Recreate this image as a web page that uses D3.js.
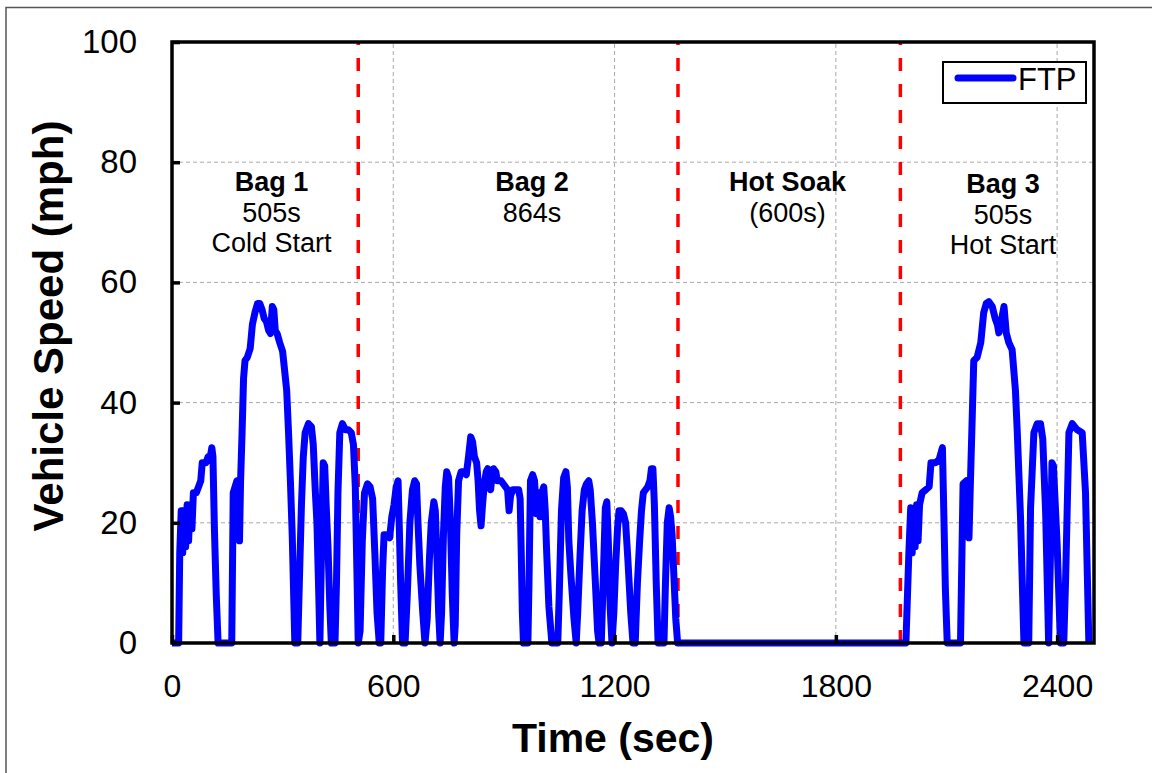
<!DOCTYPE html>
<html>
<head>
<meta charset="utf-8">
<script src="https://cdn.jsdelivr.net/npm/d3@7"></script>
<style>
    body { margin: 0; background: #fff; }
    text { font-family: Arial, "Liberation Sans", sans-serif; }
</style>
</head>
<body>
<div id="container"></div>
<script>
// FTP-75 speed trace (sec, mph)
const bag1Time = [0, 18, 21, 25, 29, 33, 37, 41, 45, 49, 54, 58, 66, 72, 78, 82, 92, 98, 104, 108, 111, 115, 120, 125,
    162, 166, 171, 176, 180, 183, 186, 190, 194, 198, 204, 212, 218, 225, 232, 238, 244, 250, 256, 262, 267, 272, 276,
    280, 285, 292, 300, 306, 311, 316, 321, 326, 333, 341, 347, 351, 356, 361, 370, 378, 383, 388, 393, 398, 401, 405,
    410, 414, 418, 423, 428, 432, 442, 446, 450, 455, 462, 470, 478, 486, 492, 497, 502, 505]
const bag1Speed = [0, 0, 15, 22, 15, 22, 16, 23, 17, 23, 19, 25, 25, 26, 27, 30, 30, 31, 31, 32.5, 31, 19, 8, 0,
    0, 25, 26, 27, 22, 17, 27, 35, 44, 47, 47.5, 49, 53, 55, 56.5, 56.5, 55.5, 54, 53.5, 52, 51.5, 56, 55.5,
    52, 51.5, 50, 48.5, 45, 42, 35, 27, 18, 0, 0, 14, 23, 31, 35, 36.5, 36, 33, 26, 20, 8, 0, 14,
    30, 29.5, 23, 16, 6, 0, 0, 10, 25, 35, 36.5, 35.5, 35.5, 35, 33, 26, 10, 0]

const bag2Time = [510, 516, 522, 530, 537, 544, 550, 556, 562, 566, 571, 575, 580, 590, 596, 602, 608, 613, 616, 620, 625,
    632, 638, 645, 652, 658, 663, 667, 672, 680, 686, 692, 698, 703, 710, 714, 718, 723, 727, 731, 736, 741, 745, 750,
    755, 760, 765, 768, 772, 777, 784, 792, 798, 804, 810, 815, 820, 826, 830, 834, 838, 842, 847, 852, 856, 860, 864,
    868, 872, 878, 882, 887, 892, 898, 904, 910, 914, 918, 924, 932, 940, 944, 947, 950, 953, 965, 968, 972, 978, 983,
    988, 993, 998, 1003, 1008, 1012, 1016, 1022, 1030, 1046, 1050, 1056, 1062, 1068, 1072, 1076, 1082, 1090, 1096, 1100,
    1106, 1112, 1118, 1124, 1130, 1134, 1140, 1148, 1154, 1158, 1164, 1170, 1175, 1179, 1183, 1188, 1193, 1198, 1203,
    1208, 1212, 1218, 1224, 1230, 1236, 1244, 1250, 1256, 1262, 1268, 1273, 1278, 1284, 1290, 1296, 1300, 1304, 1308,
    1313, 1318, 1334, 1338, 1343, 1348, 1352, 1356, 1361, 1366, 1371]
const bag2Speed = [2, 17, 25, 26.5, 26, 24, 15, 5, 0, 0, 12, 18, 18, 17.5, 21, 23, 26, 27, 20, 10, 0,
    0, 8, 20, 25.5, 27, 26.5, 20, 13, 5, 0, 4, 14, 20, 23.5, 22, 15, 5, 0, 5, 18, 26, 28.5, 27.5,
    20, 8, 0, 3, 18, 27, 28.5, 28.5, 28, 31, 34.3, 33.5, 31, 30, 27, 22, 19.5, 23, 26.5, 28.5, 29, 27, 25.5,
    28, 29, 28.5, 27, 27, 27, 26.5, 26, 25.5, 22, 24.5, 25.5, 25.5, 25.5, 24, 15, 5, 0, 0, 10, 27, 28, 27,
    21.5, 25, 21, 25, 26, 22, 15, 6, 0, 0, 8, 22, 27.5, 28.5, 26, 17, 11, 4, 0, 5,
    14, 22, 25.5, 26.5, 27, 25.5, 20, 10, 2, 0, 0, 12, 22.5, 23.5, 17, 6, 0, 5, 13,
    19, 22, 22, 21.5, 20, 14, 5, 0, 0, 10, 17, 22, 25, 25.5, 26, 27, 29, 29, 23,
    10, 0, 0, 10, 20, 22.5, 21, 18, 11, 4, 0]

const bag3Time = [1990, 1998, 2003, 2007, 2011, 2015, 2019, 2023, 2027, 2034, 2044, 2053, 2058, 2070, 2080, 2089, 2093, 2097, 2102,
    2138, 2145, 2154, 2158, 2161, 2165, 2170, 2174, 2183, 2193, 2201, 2208, 2215, 2224, 2232, 2238, 2242, 2250, 2256,
    2262, 2269, 2278, 2287, 2292, 2301, 2310, 2323, 2328, 2337, 2346, 2355, 2361, 2369, 2377, 2383, 2386, 2390, 2400,
    2409, 2418, 2423, 2432, 2441, 2454, 2468, 2477, 2486]
const bag3Speed = [0, 15, 22.5, 15, 22, 16, 23, 17, 23, 25, 25.5, 26, 30, 30, 30.5, 32.5, 21, 9, 0,
    0, 26.5, 27, 22, 17.5, 27, 38, 47, 47.5, 50, 55, 56.5, 56.8, 56, 54, 53, 51.6, 54, 56,
    51.6, 50, 48.8, 42, 35, 20.5, 0, 0, 22.5, 35, 36.5, 36.5, 34, 21.5, 0, 18, 30, 29.5, 16.5,
    0, 0, 10.5, 35, 36.5, 35.5, 35, 25, 0]

const xTicks = [0, 600, 1200, 1800, 2400]
const yTicks = [0, 20, 40, 60, 80, 100]
const bagBounds = [505, 1372, 1975]
const bagLabels = [
    { t: 270, lines: ["Bag 1", "505s", "Cold Start"] },
    { t: 976, lines: ["Bag 2", "864s"] },
    { t: 1669, lines: ["Hot Soak", "(600s)"] },
    { t: 2253, lines: ["Bag 3", "505s", "Hot Start"] }
]
const seriesName = "FTP"

const width = 1152
const height = 773
const margin = { top: 42, right: 58, bottom: 130, left: 172 }

const ftp = [
    ...bag1Time.map((t, i) => [t, bag1Speed[i]]),
    ...bag2Time.map((t, i) => [t, bag2Speed[i]]),
    ...bag3Time.map((t, i) => [t, bag3Speed[i]])
]

const svg = d3.select('#container')
    .append('svg').attr('width', width).attr('height', height)

// thin picture frame
svg.append("rect")
    .attr("x", 6).attr("y", 7.5)
    .attr("width", width + 20).attr("height", height + 20)
    .attr("fill", "none").attr("stroke", "#555").attr("stroke-width", 1.5)

const xScale = d3.scaleLinear().domain([0, 2500]).range([margin.left, width - margin.right])
const yScale = d3.scaleLinear().domain([0, 100]).range([height - margin.bottom, margin.top])
const x0 = xScale.range()[0], x1 = xScale.range()[1]
const y0 = yScale.range()[0], y1 = yScale.range()[1]

// dashed grid
svg.append("g").selectAll("line").data(yTicks.filter(d => d > 0 && d < 100)).join("line")
    .attr("x1", x0).attr("x2", x1)
    .attr("y1", d => yScale(d)).attr("y2", d => yScale(d))
    .attr("stroke", "#a8a8a8").attr("stroke-width", 1).attr("stroke-dasharray", "4,3")
svg.append("g").selectAll("line").data(xTicks.filter(d => d > 0)).join("line")
    .attr("x1", d => xScale(d)).attr("x2", d => xScale(d))
    .attr("y1", y0).attr("y2", y1)
    .attr("stroke", "#a8a8a8").attr("stroke-width", 1).attr("stroke-dasharray", "4,3")

// bag boundaries
svg.append("g").selectAll("line").data(bagBounds).join("line")
    .attr("x1", d => xScale(d)).attr("x2", d => xScale(d))
    .attr("y1", y0).attr("y2", y1)
    .attr("stroke", "#ff0000").attr("stroke-width", 3.5).attr("stroke-dasharray", "13,13")

const line = d3.line().x(d => xScale(d[0])).y(d => yScale(d[1]))
svg.append("path")
    .attr("d", line(ftp))
    .attr("fill", "none")
    .attr("stroke", "#0000ff")
    .attr("stroke-width", 7)
    .attr("stroke-linejoin", "round")

// plot box and inward ticks
svg.append("rect")
    .attr("x", x0).attr("y", y1)
    .attr("width", x1 - x0).attr("height", y0 - y1)
    .attr("fill", "none").attr("stroke", "#000").attr("stroke-width", 3.5)

const xAxis = svg.append("g").attr("transform", `translate(0,${y0})`)
    .call(d3.axisBottom(xScale).tickValues(xTicks).tickSize(-8).tickPadding(31).tickFormat(d3.format("d")))
xAxis.select(".domain").remove()
xAxis.selectAll(".tick line").attr("stroke-width", 3.5)
xAxis.selectAll("text").attr("font-size", 32).attr("fill", "#000")

const yAxis = svg.append("g").attr("transform", `translate(${x0},0)`)
    .call(d3.axisLeft(yScale).tickValues(yTicks).tickSize(-8).tickPadding(35))
yAxis.select(".domain").remove()
yAxis.selectAll(".tick line").attr("stroke-width", 3.5)
yAxis.selectAll("text").attr("font-size", 33).attr("fill", "#000")

svg.append("text")
    .attr("x", 613).attr("y", 752)
    .attr("text-anchor", "middle")
    .attr("font-size", 41).attr("font-weight", "bold")
    .text("Time (sec)")

svg.append("text")
    .attr("transform", "translate(63,326) rotate(-90)")
    .attr("text-anchor", "middle")
    .attr("font-size", 42).attr("font-weight", "bold")
    .text("Vehicle Speed (mph)")

// bag annotations
const ann = svg.append("g").selectAll("g").data(bagLabels).join("g")
    .attr("transform", (d, i) => `translate(${xScale(d.t)},${i == 3 ? 193 : 191})`)
ann.selectAll("text").data(d => d.lines).join("text")
    .attr("y", (d, i) => i * 30.5)
    .attr("text-anchor", "middle")
    .attr("font-size", 27)
    .attr("font-weight", (d, i) => i == 0 ? "bold" : "normal")
    .text(d => d)

// legend
const legend = svg.append("g").attr("transform", "translate(943,62)")
legend.append("rect")
    .attr("width", 143).attr("height", 41)
    .attr("fill", "#fff").attr("stroke", "#000").attr("stroke-width", 2)
legend.append("line")
    .attr("x1", 15).attr("x2", 70).attr("y1", 16).attr("y2", 16)
    .attr("stroke", "#0000ff").attr("stroke-width", 7).attr("stroke-linecap", "round")
legend.append("text")
    .attr("x", 75).attr("y", 28)
    .attr("font-size", 31)
    .text(seriesName)
</script>
</body>
</html>
